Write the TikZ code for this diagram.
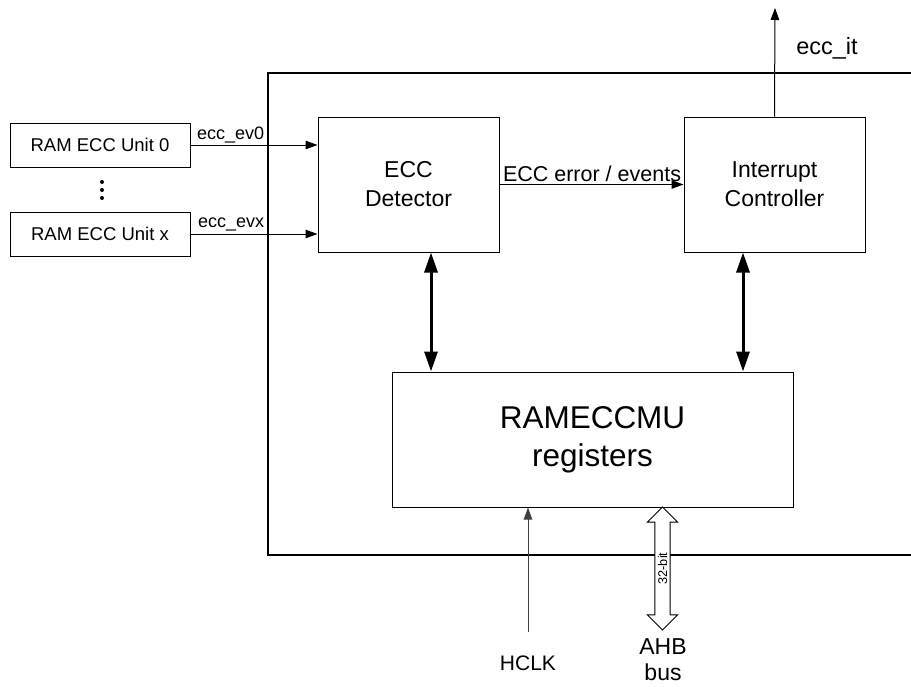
\documentclass[tikz,border=0pt]{standalone}
\usepackage{fontspec}
\setmainfont{Liberation Sans}
\usepackage{tikz}
\usetikzlibrary{arrows.meta, positioning, shapes.arrows, calc}

\tikzset{
  blk/.style={draw, line width=1pt, minimum width=181pt, minimum height=135pt, align=center, font=\fontsize{23}{29}\selectfont},
  unitbox/.style={draw, line width=1pt, minimum width=180pt, minimum height=44pt, font=\fontsize{18.5}{22}\selectfont},
  sig/.style={-{Triangle[length=12pt,width=8.5pt]}, line width=1pt},
  lbl/.style={font=\fontsize{18}{22}\selectfont, inner sep=0pt},
  bidir/.style={{Triangle[length=20pt,width=13pt]}-{Triangle[length=20pt,width=13pt]}, line width=3pt},
}

\begin{document}
\begin{tikzpicture}[x=1pt, y=-1pt]
      \useasboundingbox (0,0) rectangle (911,686);
      % outer block
      \draw[line width=2pt] (911,73) -| (268,555) -- (911,555);

      \node[unitbox] (ram0) at (100,145) {RAM ECC Unit 0};
      \node[unitbox] (ramx) at (100,234) {RAM ECC Unit x};
      \foreach \y in {182, 190, 198} {
        \fill (102,\y) circle (2pt);
      }

      \node[blk] (det) at (408.5,184.5) {ECC\\Detector};
      \node[blk] (irq) at (774.5,184.5) {Interrupt\\Controller};
      \node[draw, line width=1pt, minimum width=401pt, minimum height=135pt, align=center,
            font=\fontsize{31.5}{38}\selectfont] (regs) at (592.5,439.5) {RAMECCMU\\registers};

      \draw[sig] (ram0.east) -- (ram0.east -| det.west)
        node[lbl, pos=0, anchor=base west, xshift=6pt, yshift=6pt] {ecc\_ev0};
      \draw[sig] (ramx.east) -- (ramx.east -| det.west)
        node[lbl, pos=0, anchor=base west, xshift=7pt, yshift=7pt] {ecc\_evx};
      \draw[sig] (det.east) -- (irq.west)
        node[pos=0, anchor=base west, inner sep=0pt, xshift=3pt, yshift=3pt, font=\fontsize{21.5}{26}\selectfont] {ECC error / events};

      \coordinate (itout) at (775,8);
      \draw[sig] (irq.north) -- (itout);
      \node[font=\fontsize{23.5}{28}\selectfont] (itlbl) at (827,48) {ecc\_it};

      \draw[bidir] ([xshift=22.5pt]det.south) -- ([xshift=22.5pt]det.south |- regs.north);
      \draw[bidir] ([xshift=-31.5pt]irq.south) -- ([xshift=-31.5pt]irq.south |- regs.north);

      \coordinate (clkin) at (528,632);
      \draw[sig, draw=black!75] (clkin) -- (clkin |- regs.south);
      \node[font=\fontsize{21}{26}\selectfont] (hclk) at (528,663) {HCLK};

      \node[draw, fill=white, line width=1pt, double arrow, rotate=90, double arrow head extend=7.5pt,
            minimum height=123pt, inner xsep=0pt, inner ysep=2.5pt,
            font=\fontsize{12.7}{14}\selectfont] (ahb) at (662.5,568.5) {32-bit};
      \node[align=center, font=\fontsize{23}{26}\selectfont] (ahblbl) at (663,660) {AHB\\bus};
\end{tikzpicture}
\end{document}
